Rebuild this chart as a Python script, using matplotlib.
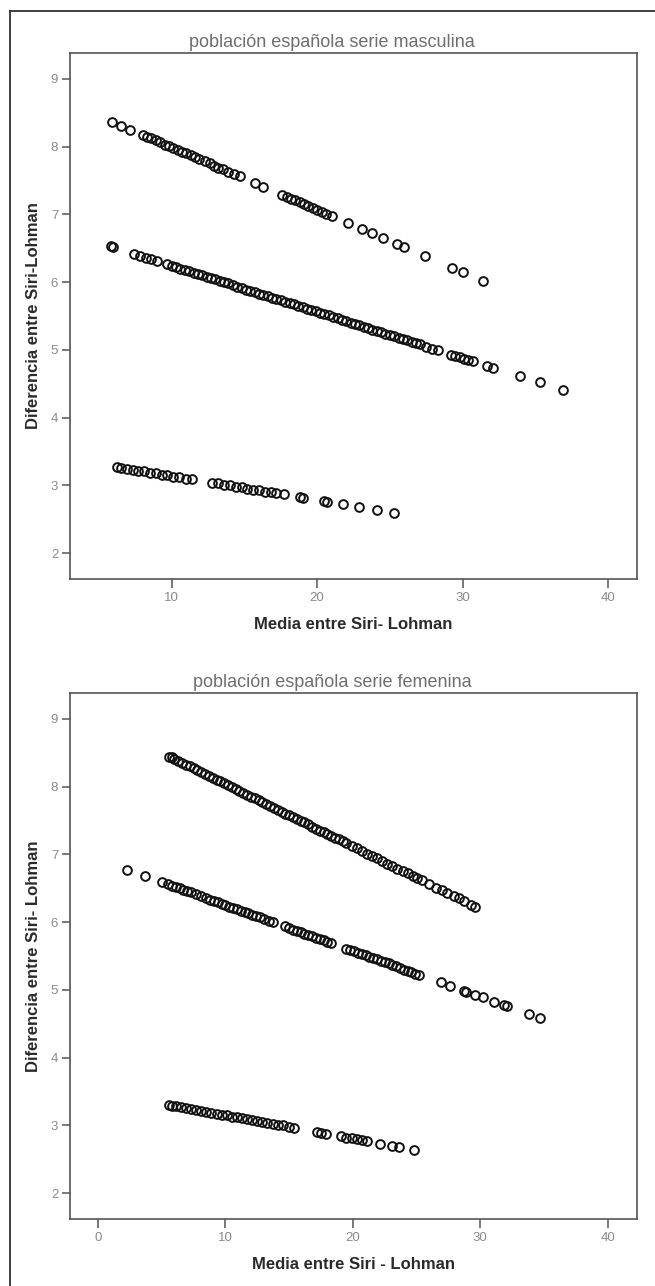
import matplotlib
matplotlib.use('Agg')
import matplotlib.pyplot as plt
from matplotlib.lines import Line2D

plt.rcParams['font.family'] = ['Liberation Sans', 'DejaVu Sans']

# serie masculina - three bands (x = media, y = diferencia)
masc_top_x = [5.9, 6.5, 7.1, 8.0, 8.3, 8.6, 8.9, 9.2, 9.5, 9.8, 10.1, 10.4, 10.7, 11.0, 11.3, 11.6,
              11.9, 12.3, 12.6, 12.9, 13.2, 13.5, 13.9, 14.3, 14.7, 15.7, 16.3, 17.6, 17.9, 18.2,
              18.5, 18.8, 19.1, 19.4, 19.7, 20.0, 20.3, 20.6, 21.0, 22.1, 23.1, 23.8, 24.5, 25.5,
              26.0, 27.4, 29.3, 30.0, 31.4]
masc_top_y = [8.36, 8.31, 8.25, 8.17, 8.14, 8.12, 8.09, 8.06, 8.03, 8.01, 7.98, 7.95, 7.92, 7.90, 7.87, 7.84,
              7.81, 7.78, 7.75, 7.72, 7.69, 7.67, 7.63, 7.59, 7.56, 7.46, 7.41, 7.29, 7.26, 7.23,
              7.21, 7.18, 7.15, 7.12, 7.10, 7.07, 7.04, 7.01, 6.98, 6.87, 6.78, 6.72, 6.65, 6.56,
              6.52, 6.39, 6.21, 6.15, 6.02]

masc_mid_x = [5.8, 5.95, 7.4, 7.8, 8.2, 8.6, 9.0, 9.7, 10.0, 10.3, 10.6, 10.9, 11.2, 11.5, 11.8, 12.1,
              12.4, 12.7, 13.0, 13.3, 13.6, 13.9, 14.2, 14.5, 14.8, 15.1, 15.4, 15.7, 16.0, 16.3,
              16.6, 16.9, 17.2, 17.5, 17.8, 18.1, 18.4, 18.7, 19.0, 19.3, 19.6, 19.9, 20.2, 20.5,
              20.8, 21.1, 21.4, 21.7, 22.0, 22.3, 22.6, 22.9, 23.2, 23.5, 23.8, 24.1, 24.4, 24.7,
              25.0, 25.3, 25.6, 25.9, 26.2, 26.5, 26.8, 27.1, 27.5, 27.9, 28.3, 29.2, 29.5, 29.8,
              30.1, 30.4, 30.7, 31.7, 32.1, 33.95, 35.3, 36.9]
masc_mid_y = [6.53, 6.52, 6.42, 6.39, 6.36, 6.34, 6.31, 6.26, 6.24, 6.22, 6.20, 6.18, 6.16, 6.14, 6.12, 6.10,
              6.08, 6.06, 6.04, 6.02, 6.00, 5.98, 5.95, 5.93, 5.91, 5.89, 5.87, 5.85, 5.83, 5.81,
              5.79, 5.77, 5.75, 5.73, 5.71, 5.69, 5.67, 5.65, 5.63, 5.61, 5.59, 5.57, 5.55, 5.53,
              5.51, 5.49, 5.47, 5.44, 5.42, 5.40, 5.38, 5.36, 5.34, 5.32, 5.30, 5.28, 5.26, 5.24,
              5.22, 5.20, 5.18, 5.16, 5.14, 5.12, 5.10, 5.08, 5.05, 5.02, 5.00, 4.93, 4.91, 4.89,
              4.87, 4.85, 4.83, 4.76, 4.74, 4.61, 4.52, 4.41]

masc_low_x = [6.2, 6.5, 6.9, 7.3, 7.7, 8.1, 8.5, 8.9, 9.3, 9.7, 10.1, 10.5, 11.0, 11.4, 12.8, 13.2,
              13.6, 14.0, 14.4, 14.8, 15.2, 15.6, 16.0, 16.4, 16.8, 17.2, 17.7, 18.8, 19.0, 20.5,
              20.7, 21.8, 22.9, 24.1, 25.3]
masc_low_y = [3.27, 3.26, 3.25, 3.23, 3.22, 3.21, 3.19, 3.18, 3.16, 3.15, 3.13, 3.12, 3.10, 3.09, 3.04, 3.03,
              3.01, 3.00, 2.98, 2.97, 2.95, 2.94, 2.93, 2.91, 2.90, 2.89, 2.87, 2.83, 2.82, 2.77,
              2.76, 2.72, 2.68, 2.64, 2.60]

# serie femenina
fem_top_x = [5.6, 5.8, 6.0, 6.3, 6.6, 6.9, 7.2, 7.5, 7.8, 8.1, 8.4, 8.7, 9.0, 9.3, 9.6, 9.9,
             10.2, 10.5, 10.8, 11.1, 11.4, 11.7, 12.0, 12.3, 12.6, 12.9, 13.2, 13.5, 13.8, 14.1,
             14.4, 14.7, 15.0, 15.3, 15.6, 15.9, 16.2, 16.5, 16.8, 17.1, 17.4, 17.7, 18.0, 18.3,
             18.6, 18.9, 19.2, 19.5, 19.9, 20.3, 20.7, 21.1, 21.5, 21.9, 22.3, 22.7, 23.1, 23.5,
             23.9, 24.3, 24.7, 25.0, 25.4, 26.0, 26.5, 27.0, 27.4, 27.9, 28.3, 28.7, 29.3, 29.6]
fem_top_y = [8.44, 8.43, 8.41, 8.38, 8.35, 8.32, 8.30, 8.27, 8.24, 8.21, 8.19, 8.16, 8.13, 8.10, 8.08, 8.05,
             8.02, 7.99, 7.96, 7.94, 7.91, 7.88, 7.85, 7.83, 7.80, 7.77, 7.74, 7.71, 7.69, 7.66,
             7.63, 7.60, 7.58, 7.55, 7.52, 7.49, 7.47, 7.44, 7.41, 7.38, 7.35, 7.33, 7.30, 7.27,
             7.24, 7.22, 7.19, 7.16, 7.12, 7.09, 7.05, 7.01, 6.98, 6.94, 6.90, 6.86, 6.83, 6.79,
             6.75, 6.72, 6.68, 6.65, 6.62, 6.56, 6.51, 6.47, 6.43, 6.38, 6.35, 6.31, 6.25, 6.23]

fem_mid_x = [2.3, 3.7, 5.0, 5.5, 5.8, 6.1, 6.4, 6.7, 7.0, 7.3, 7.7, 8.1, 8.5, 8.8, 9.1, 9.4,
             9.7, 10.0, 10.3, 10.6, 10.9, 11.2, 11.5, 11.8, 12.1, 12.4, 12.7, 13.0, 13.4, 13.7,
             14.7, 15.0, 15.3, 15.6, 15.9, 16.2, 16.5, 16.8, 17.1, 17.4, 17.7, 18.0, 18.3, 19.5,
             19.8, 20.1, 20.4, 20.7, 21.0, 21.3, 21.6, 21.9, 22.2, 22.5, 22.8, 23.1, 23.4, 23.7,
             24.0, 24.3, 24.6, 24.9, 25.2, 26.9, 27.6, 28.7, 28.9, 29.6, 30.2, 31.1, 31.9, 32.1,
             33.8, 34.7]
fem_mid_y = [6.77, 6.68, 6.59, 6.56, 6.54, 6.52, 6.50, 6.48, 6.46, 6.44, 6.41, 6.38, 6.35, 6.33, 6.31, 6.29,
             6.27, 6.25, 6.23, 6.21, 6.19, 6.17, 6.15, 6.13, 6.11, 6.09, 6.07, 6.05, 6.02, 6.00,
             5.94, 5.92, 5.89, 5.87, 5.85, 5.83, 5.81, 5.79, 5.77, 5.75, 5.73, 5.71, 5.69, 5.61,
             5.59, 5.57, 5.55, 5.53, 5.51, 5.49, 5.47, 5.45, 5.43, 5.41, 5.39, 5.37, 5.35, 5.32,
             5.30, 5.28, 5.26, 5.24, 5.22, 5.11, 5.06, 4.99, 4.97, 4.93, 4.89, 4.82, 4.77, 4.76,
             4.64, 4.58]

fem_low_x = [5.6, 5.8, 6.1, 6.5, 6.9, 7.3, 7.7, 8.1, 8.5, 8.9, 9.3, 9.7, 10.1, 10.5, 10.9, 11.3,
             11.7, 12.1, 12.5, 12.9, 13.3, 13.7, 14.1, 14.5, 15.0, 15.4, 17.2, 17.5, 17.9, 19.1,
             19.5, 19.9, 20.3, 20.7, 21.1, 22.1, 23.1, 23.6, 24.8]
fem_low_y = [3.30, 3.29, 3.28, 3.27, 3.26, 3.24, 3.23, 3.22, 3.20, 3.19, 3.17, 3.16, 3.15, 3.13, 3.12, 3.11,
             3.09, 3.08, 3.06, 3.05, 3.04, 3.02, 3.01, 3.00, 2.98, 2.96, 2.90, 2.89, 2.88, 2.84,
             2.82, 2.81, 2.80, 2.78, 2.77, 2.73, 2.70, 2.68, 2.64]

panels = [
    dict(title='población española serie masculina',
         xlabel='Media entre Siri- Lohman', ylabel='Diferencia entre Siri-Lohman',
         bands=[(masc_top_x, masc_top_y), (masc_mid_x, masc_mid_y), (masc_low_x, masc_low_y)],
         xlim=(3, 42), xticks=[10, 20, 30, 40], bottom=1 - 579 / 1286),
    dict(title='población española serie femenina',
         xlabel='Media entre Siri - Lohman', ylabel='Diferencia entre Siri- Lohman',
         bands=[(fem_top_x, fem_top_y), (fem_mid_x, fem_mid_y), (fem_low_x, fem_low_y)],
         xlim=(-2.2, 42.3), xticks=[0, 10, 20, 30, 40], bottom=1 - 1219 / 1286),
]

fig = plt.figure(figsize=(6.55, 12.86), dpi=100)

spine_col = '#555555'
tick_col = '#8a8a8a'

for p in panels:
    ax = fig.add_axes([70 / 655, p['bottom'], 567 / 655, 526 / 1286])
    for bx, by in p['bands']:
        ax.plot(bx, by, linestyle='none', marker='o', markersize=6.3,
                markerfacecolor='none', markeredgecolor='#111111', markeredgewidth=1.4)

    ax.set_xlim(*p['xlim'])
    ax.set_ylim(1.62, 9.38)
    ax.set_xticks(p['xticks'])
    ax.set_yticks(range(2, 10))

    for s in ax.spines.values():
        s.set_color(spine_col)
        s.set_linewidth(1.2)

    ax.tick_params(axis='y', length=5.5, width=1.1, color=spine_col, pad=3,
                   labelsize=9.5, labelcolor=tick_col)
    ax.tick_params(axis='x', length=6.5, width=1.1, color=spine_col, pad=3,
                   labelsize=9.5, labelcolor=tick_col)

    ax.set_xlabel(p['xlabel'], fontsize=12, fontweight='bold', color='#2a2a2a')
    ax.set_ylabel(p['ylabel'], fontsize=12, fontweight='bold', color='#2a2a2a')
    ax.xaxis.set_label_coords(0.5, -0.072)
    ax.yaxis.set_label_coords(-0.052, 0.5)

    ax.text(0.462, 1.003, p['title'], transform=ax.transAxes, ha='center', va='bottom',
            fontsize=13, color='#6e6e6e')

# outer frame (left and top edges visible)
fig.add_artist(Line2D([10 / 655, 10 / 655], [0, 1 - 11 / 1286], color='#333333', linewidth=1.3))
fig.add_artist(Line2D([10 / 655, 1], [1 - 11 / 1286, 1 - 11 / 1286], color='#333333', linewidth=1.3))

plt.savefig('out.png', dpi=100)
plt.close()
